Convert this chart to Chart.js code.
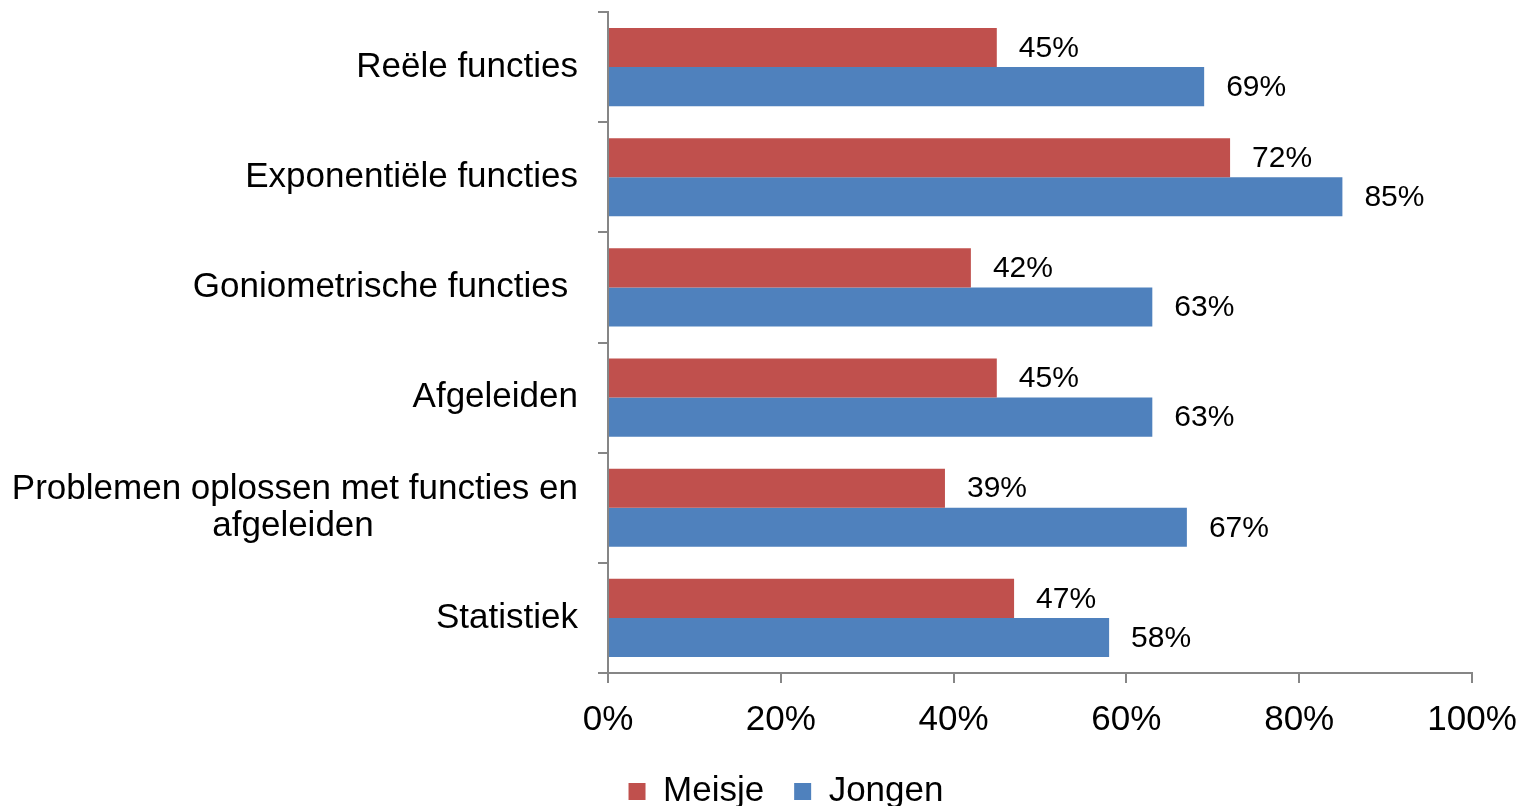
<!DOCTYPE html>
<html>
<head>
<meta charset="utf-8">
<script src="https://cdn.jsdelivr.net/npm/chart.js@4.4.1/dist/chart.umd.min.js"></script>
<style>
    html, body { margin: 0; padding: 0; background: #fff; }
    #wrap { width: 1524px; height: 806px; }
</style>
</head>
<body>
<div id="wrap"><canvas id="myChart" width="1524" height="806"></canvas></div>
<script>
// categories (top to bottom)
var categories = [
    'Reële functies',
    'Exponentiële functies',
    'Goniometrische functies ',
    'Afgeleiden',
    ['Problemen oplossen met functies en', 'afgeleiden                     '],
    'Statistiek'
];
var meisje = [45, 72, 42, 45, 39, 47];
var jongen = [69, 85, 63, 63, 67, 58];
var xTicks = [0, 20, 40, 60, 80, 100];

var fontFamily = "'Liberation Sans', Arial, sans-serif";
var axisColor = '#868686';

// draws the % next to each bar
var valueLabels = {
    id: 'valueLabels',
    afterDatasetsDraw: function (chart) {
        var ctx = chart.ctx;
        ctx.save();
        ctx.font = '30px ' + fontFamily;
        ctx.fillStyle = '#000';
        ctx.textAlign = 'left';
        ctx.textBaseline = 'middle';
        chart.data.datasets.forEach(function (ds, i) {
            var meta = chart.getDatasetMeta(i);
            meta.data.forEach(function (bar, j) {
                ctx.fillText(ds.data[j] + '%', bar.x + 22, bar.y + 1);
            });
        });
        ctx.restore();
    }
};

// move the legend a bit right and down, like the original
var legendShift = {
    id: 'legendShift',
    afterLayout: function (chart) {
        var lg = chart.legend;
        lg.left += 50;
        lg.right += 50;
        var h = lg.bottom - lg.top;
        lg.top = 744;
        lg.bottom = lg.top + h;
    }
};

function renderChart() {
    var ctx = document.getElementById('myChart');
    new Chart(ctx, {
        type: 'bar',
        plugins: [valueLabels, legendShift],
        data: {
            labels: categories,
            datasets: [{
                label: 'Meisje',
                data: meisje,
                backgroundColor: '#C0504D',
                borderWidth: 0,
                barPercentage: 1,
                categoryPercentage: 0.71
            }, {
                label: 'Jongen',
                data: jongen,
                backgroundColor: '#4F81BD',
                borderWidth: 0,
                barPercentage: 1,
                categoryPercentage: 0.71
            }]
        },
        options: {
            indexAxis: 'y',
            responsive: false,
            animation: false,
            layout: {
                padding: { left: 0, right: 52, top: 12, bottom: 0 }
            },
            plugins: {
                legend: {
                    position: 'bottom',
                    labels: {
                        boxWidth: 17,
                        boxHeight: 17,
                        padding: 30,
                        color: '#000',
                        font: { size: 35, family: fontFamily }
                    }
                },
                tooltip: { enabled: false }
            },
            scales: {
                x: {
                    min: 0,
                    max: 100,
                    afterBuildTicks: function (axis) {
                        axis.ticks = xTicks.map(function (v) { return { value: v }; });
                    },
                    border: { color: axisColor, width: 2 },
                    grid: {
                        drawOnChartArea: false,
                        drawTicks: true,
                        tickLength: 10,
                        color: axisColor,
                        lineWidth: 2
                    },
                    ticks: {
                        padding: 16,
                        color: '#000',
                        font: { size: 35, family: fontFamily },
                        callback: function (v) { return v + '%'; }
                    },
                    afterFit: function (s) {
                        s.height = 806 - 673 - s.chart.legend.height;
                        s.paddingLeft = 0;
                        s.paddingRight = 0;
                    }
                },
                y: {
                    border: { color: axisColor, width: 2 },
                    grid: {
                        drawOnChartArea: false,
                        drawTicks: true,
                        tickLength: 10,
                        color: axisColor,
                        lineWidth: 2
                    },
                    ticks: {
                        padding: 20,
                        color: '#000',
                        font: { size: 35, family: fontFamily, lineHeight: 1.08 }
                    },
                    afterFit: function (s) {
                        s.width = 608;
                        s.paddingTop = 0;
                        s.paddingBottom = 0;
                    }
                }
            }
        }
    });
}

renderChart();
</script>
</body>
</html>
